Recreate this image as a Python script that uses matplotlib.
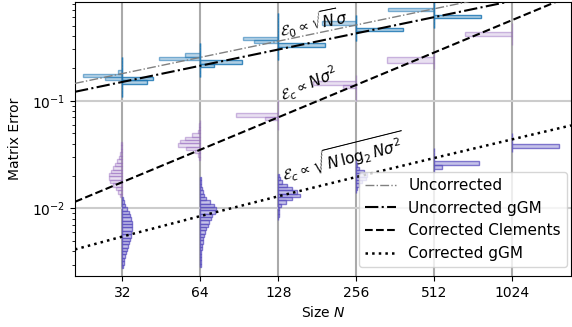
import numpy as np
import matplotlib

matplotlib.use("Agg")
import matplotlib.pyplot as plt
from matplotlib.ticker import NullLocator

sizes = [32, 64, 128, 256, 512, 1024]
size_labels = ["32", "64", "128", "256", "512", "1024"]

# horizontal histograms: (lowest edge, highest edge) and counts listed bottom -> top
unc_sizes = [32, 64, 128, 256, 512]
unc_range = [(0.1082, 0.2547), (0.1661, 0.3416), (0.2389, 0.6491),
             (0.3573, 0.6326), (0.4739, 0.8445)]
unc_counts = [
    [0, 0, 0, 0, 0, 17, 39, 4, 0, 0, 0, 0],
    [0, 0, 0, 0, 0, 41, 15, 0, 0, 0],
    [0, 0, 0, 0, 0, 24, 35, 0, 0, 0, 0, 0, 0, 0],
    [0, 0, 0, 0, 0, 34, 0, 0],
    [0, 0, 0, 0, 0, 46, 0, 0],
]
ugg_counts = [
    [0, 0, 0, 0, 25, 31, 0, 0, 0, 0, 0, 0],
    [0, 0, 0, 14, 42, 0, 0, 0, 0, 0],
    [0, 0, 0, 0, 47, 0, 0, 0, 0, 0, 0, 0, 0, 0],
    [0, 0, 0, 47, 0, 0, 0, 0],
    [0, 0, 0, 47, 0, 0, 0, 0],
]

clem_range = [(0.01274, 0.04131), (0.02811, 0.06615), (0.05340, 0.1015),
              (0.0988, 0.1744), (0.1971, 0.2896), (0.3295, 0.5274)]
clem_counts = [
    [2, 4, 6, 9, 12, 13, 13, 11, 9, 7, 5, 3, 2, 1, 1, 1],
    [1, 2, 5, 14, 22, 20, 15, 8, 2, 1, 1, 0],
    [0, 0, 0, 13, 42, 0, 0, 0, 0],
    [0, 0, 0, 0, 13, 43, 0, 0],
    [0, 47, 0],
    [0, 0, 47, 0, 0],
]

gcor_range = [(0.002788, 0.01274), (0.002849, 0.01954), (0.007735, 0.02106),
              (0.01378, 0.02811), (0.02129, 0.03634), (0.03336, 0.05010)]
gcor_counts = [
    [1, 2, 2, 3, 4, 5, 6, 7, 8, 9, 9, 10, 10, 10, 9, 8, 7, 5, 3, 2, 1],
    [1, 1, 1, 1, 1, 2, 2, 3, 3, 4, 5, 6, 8, 9, 11, 12, 15, 16, 14, 10, 6, 4, 3, 2, 1, 1, 1],
    [0, 1, 1, 1, 3, 8, 14, 22, 19, 14, 9, 4, 2, 1],
    [0, 1, 3, 6, 10, 11, 8, 3, 1, 0],
    [0, 8, 45, 0, 0, 0],
    [0, 47, 0, 0, 0],
]

# scaling-law guide lines
line_N = [21, 1730]
uncorr_line = [0.1449, 1.314]
uncorr_ggm_line = [0.1211, 1.099]
clements_line = [0.0115, 0.9475]
ggm_line_N = [21, 32, 64, 128, 256, 512, 1024, 1730]
ggm_line = [0.004149, 0.005464, 0.008466, 0.01293, 0.01955, 0.02933, 0.04372, 0.05894]

OCT_PER_COUNT = 1 / 78  # bar length scale, in octaves of N per count


def draw_hist(ax, n, lo, hi, counts, side, face, edge):
    counts = np.asarray(counts, dtype=float)
    edges = np.geomspace(lo, hi, len(counts) + 1)
    span = counts * OCT_PER_COUNT
    if side < 0:
        left = n * 2.0 ** (-span)
        width = n - left
    else:
        left = np.full_like(span, n)
        width = n * (2.0 ** span - 1)
    ax.barh(edges[:-1], width, height=np.diff(edges), left=left, align="edge",
            facecolor=face, edgecolor=edge, linewidth=1.0, zorder=2)


fig = plt.figure(figsize=(5.72, 3.27), dpi=100)
ax = fig.add_axes([75 / 572, 1 - 276 / 327, 496 / 572, 274 / 327])

blue = "#1f77b4"
purple = "#9467bd"
slate = "#5b50c0"
rgba = matplotlib.colors.to_rgba
for i, n in enumerate(unc_sizes):
    lo, hi = unc_range[i]
    draw_hist(ax, n, lo, hi, unc_counts[i], -1, rgba(blue, 0.3), rgba(blue, 0.55))
    draw_hist(ax, n, lo, hi, ugg_counts[i], +1, rgba(blue, 0.35), rgba(blue, 0.85))
for i, n in enumerate(sizes):
    lo, hi = clem_range[i]
    draw_hist(ax, n, lo, hi, clem_counts[i], -1, rgba(purple, 0.2), rgba(purple, 0.45))
    lo, hi = gcor_range[i]
    draw_hist(ax, n, lo, hi, gcor_counts[i], +1, rgba(slate, 0.35), rgba(slate, 0.75))

ax.plot(line_N, uncorr_line, color="gray", ls="-.", lw=1.0, label="Uncorrected", zorder=3)
ax.plot(line_N, uncorr_ggm_line, color="black", ls="-.", lw=1.5, label="Uncorrected gGM", zorder=3)
ax.plot(line_N, clements_line, color="black", ls="--", lw=1.5, label="Corrected Clements", zorder=3)
ax.plot(ggm_line_N, ggm_line, color="black", ls=":", lw=1.8, label="Corrected gGM", zorder=3)

ax.text(131.5, 0.387, r"$\mathcal{E}_0 \propto \sqrt{N}\sigma$", fontsize=11,
        rotation=11.5, rotation_mode="anchor", ha="left", va="baseline")
ax.text(134, 0.099, r"$\mathcal{E}_c \propto N\sigma^2$", fontsize=11,
        rotation=23, rotation_mode="anchor", ha="left", va="baseline")
ax.text(134, 0.01795, r"$\mathcal{E}_c \propto \sqrt{N\,\log_2 N\sigma^2}$", fontsize=11,
        rotation=14, rotation_mode="anchor", ha="left", va="baseline")

ax.set_xscale("log", base=2)
ax.set_yscale("log")
ax.set_xlim(21, 1730)
ax.set_ylim(0.00235, 0.827)
ax.set_xticks(sizes)
ax.set_xticklabels(size_labels)
ax.xaxis.set_minor_locator(NullLocator())
ax.set_axisbelow(True)
ax.grid(True, axis="x", which="major", color="#aaaaaa", lw=1.5)
ax.grid(True, axis="y", which="major", color="#cccccc", lw=1.5)
ax.set_xlabel("Size $N$")
ax.set_ylabel("Matrix Error", labelpad=7)
ax.legend(loc="lower right", fontsize=11, borderaxespad=0,
          bbox_to_anchor=(492 / 496, 9 / 274))

fig.savefig("out.png", dpi=100)
